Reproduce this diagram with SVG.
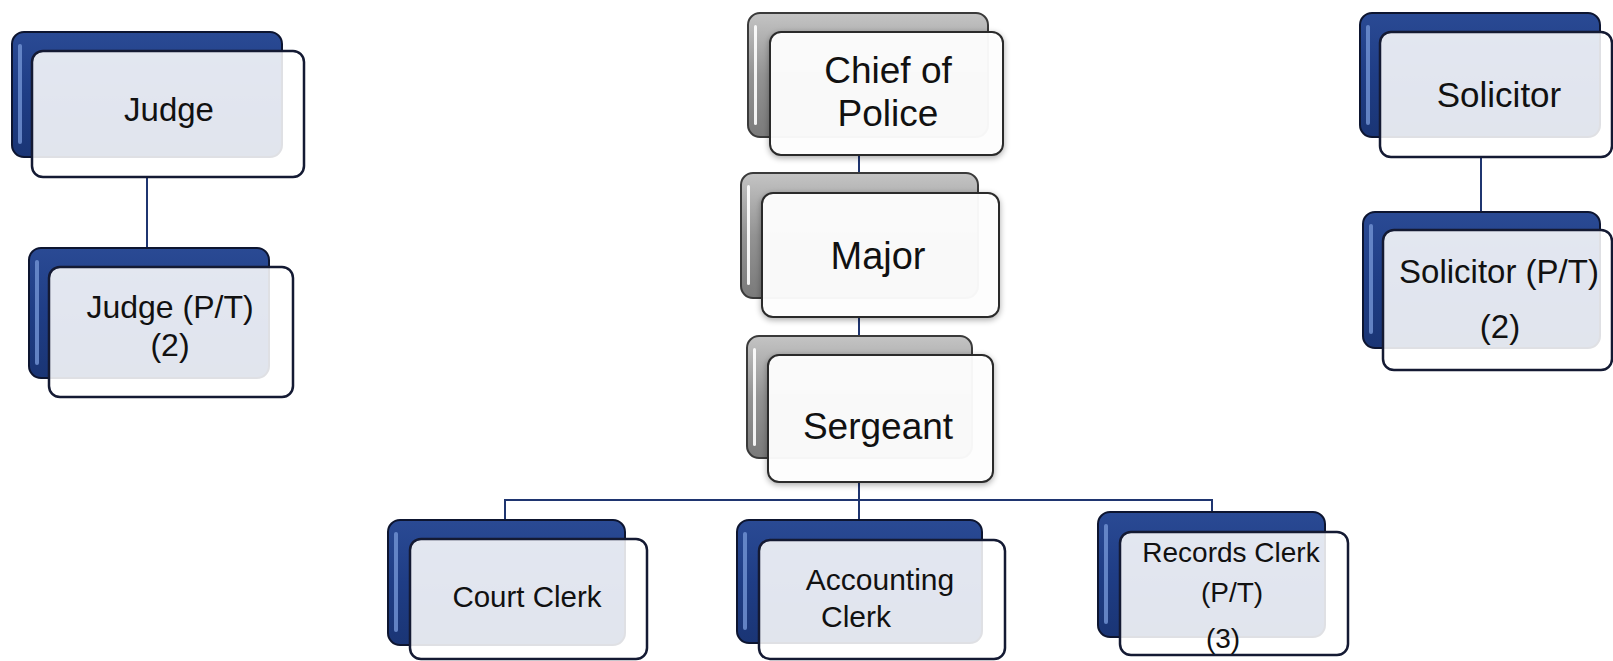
<svg xmlns="http://www.w3.org/2000/svg" width="1613" height="661" viewBox="0 0 1613 661">
<defs>
<linearGradient id="blueG" x1="0" y1="0" x2="0" y2="1">
<stop offset="0" stop-color="#2a4a94"/>
<stop offset="0.5" stop-color="#1f3d85"/>
<stop offset="1" stop-color="#1a3575"/>
</linearGradient>
<linearGradient id="grayG" x1="0" y1="0" x2="0" y2="1">
<stop offset="0" stop-color="#c4c4c4"/>
<stop offset="0.5" stop-color="#939393"/>
<stop offset="1" stop-color="#7a7a7a"/>
</linearGradient>
<filter id="soft" x="-10%" y="-10%" width="120%" height="130%">
<feGaussianBlur in="SourceAlpha" stdDeviation="3"/>
<feOffset dx="0" dy="2" result="b"/>
<feComponentTransfer><feFuncA type="linear" slope="0.35"/></feComponentTransfer>
<feMerge><feMergeNode/><feMergeNode in="SourceGraphic"/></feMerge>
</filter>
</defs>
<style>
.bb{fill:url(#blueG);stroke:#0d1530;stroke-width:2}
.gb{fill:url(#grayG);stroke:#3a3a3a;stroke-width:2}
.hl{fill:#6f8fd0;opacity:0.85}
.ghl{fill:#ffffff;opacity:0.9}
.fb{fill:#ffffff;fill-opacity:0.87;stroke:#141a33;stroke-width:2.5}
.fg{fill:#ffffff;fill-opacity:0.95;stroke:#2a2a2a;stroke-width:2}
.t{font-family:"Liberation Sans",Arial,sans-serif;fill:#111;text-anchor:middle}
.c{fill:none;stroke:#1f3570;stroke-width:2}
</style>
<rect width="1613" height="661" fill="#ffffff"/>

<g id="connectors">
<path class="c" d="M147 177 V248"/>
<path class="c" d="M1481 157 V212"/>
<path class="c" d="M859 155 V173"/>
<path class="c" d="M859 317 V336"/>
<path class="c" d="M859 482 V520"/>
<path class="c" d="M505 520 V500 H1212 V512"/>
</g>

<g id="judge">
<rect class="bb" x="12" y="32" width="270" height="125" rx="12"/>
<rect class="hl" x="18" y="44" width="4" height="100" rx="2"/>
<rect class="fb" x="32" y="51" width="272" height="126" rx="11"/>
<text class="t" x="169" y="121" font-size="33">Judge</text>
</g>

<g id="judge-pt">
<rect class="bb" x="29" y="248" width="240" height="130" rx="12"/>
<rect class="hl" x="35" y="260" width="4" height="105" rx="2"/>
<rect class="fb" x="49" y="267" width="244" height="130" rx="11"/>
<text class="t" x="170" y="318" font-size="32">Judge (P/T)</text>
<text class="t" x="170" y="356" font-size="32">(2)</text>
</g>

<g id="chief">
<rect class="gb" x="748" y="13" width="240" height="124" rx="12"/>
<rect class="ghl" x="754" y="25" width="3" height="100" rx="1.5"/>
<rect class="fg" x="770" y="32" width="233" height="123" rx="11" filter="url(#soft)"/>
<text class="t" x="888" y="83" font-size="37">Chief of</text>
<text class="t" x="888" y="126" font-size="37">Police</text>
</g>

<g id="major">
<rect class="gb" x="741" y="173" width="237" height="125" rx="12"/>
<rect class="ghl" x="747" y="185" width="3" height="100" rx="1.5"/>
<rect class="fg" x="762" y="193" width="237" height="124" rx="11" filter="url(#soft)"/>
<text class="t" x="878" y="269" font-size="38">Major</text>
</g>

<g id="sergeant">
<rect class="gb" x="747" y="336" width="225" height="122" rx="12"/>
<rect class="ghl" x="753" y="348" width="3" height="98" rx="1.5"/>
<rect class="fg" x="768" y="355" width="225" height="127" rx="11" filter="url(#soft)"/>
<text class="t" x="878" y="439" font-size="37">Sergeant</text>
</g>

<g id="court-clerk">
<rect class="bb" x="388" y="520" width="237" height="125" rx="12"/>
<rect class="hl" x="394" y="532" width="4" height="100" rx="2"/>
<rect class="fb" x="410" y="539" width="237" height="120" rx="11"/>
<text class="t" x="527" y="607" font-size="29.5">Court Clerk</text>
</g>

<g id="accounting-clerk">
<rect class="bb" x="737" y="520" width="245" height="123" rx="12"/>
<rect class="hl" x="743" y="532" width="4" height="98" rx="2"/>
<rect class="fb" x="759" y="540" width="246" height="119" rx="11"/>
<text class="t" x="880" y="590" font-size="30">Accounting</text>
<text class="t" x="856" y="627" font-size="30">Clerk</text>
</g>

<g id="records-clerk">
<rect class="bb" x="1098" y="512" width="227" height="125" rx="12"/>
<rect class="hl" x="1104" y="524" width="4" height="100" rx="2"/>
<rect class="fb" x="1120" y="532" width="228" height="123" rx="11"/>
<text class="t" x="1231" y="562" font-size="28">Records Clerk</text>
<text class="t" x="1232" y="602" font-size="28">(P/T)</text>
<text class="t" x="1223" y="648" font-size="28">(3)</text>
</g>

<g id="solicitor">
<rect class="bb" x="1360" y="13" width="240" height="124" rx="12"/>
<rect class="hl" x="1366" y="25" width="4" height="100" rx="2"/>
<rect class="fb" x="1380" y="32" width="232" height="125" rx="11"/>
<text class="t" x="1499" y="107" font-size="35">Solicitor</text>
</g>

<g id="solicitor-pt">
<rect class="bb" x="1363" y="212" width="237" height="136" rx="12"/>
<rect class="hl" x="1369" y="224" width="4" height="110" rx="2"/>
<rect class="fb" x="1383" y="230" width="229" height="140" rx="11"/>
<text class="t" x="1499" y="283" font-size="33">Solicitor (P/T)</text>
<text class="t" x="1500" y="338" font-size="33">(2)</text>
</g>
</svg>
